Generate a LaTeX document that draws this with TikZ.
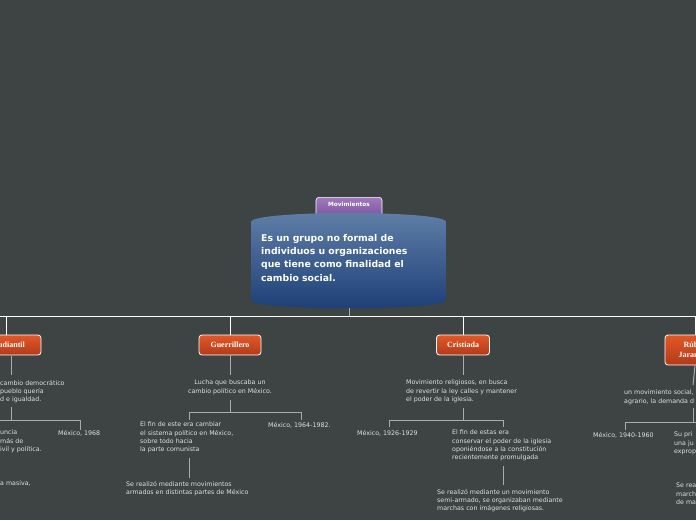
\documentclass[tikz,border=0pt]{standalone}
\usepackage{fontspec}
\setmainfont{DejaVu Sans}
\newfontfamily\boxfont{Liberation Serif}
\usetikzlibrary{calc}
\definecolor{bg}{RGB}{62,67,68}
\definecolor{ln}{RGB}{170,172,172}
\definecolor{tx}{RGB}{225,225,225}
\definecolor{org}{RGB}{226,88,38}
\definecolor{orgd}{RGB}{178,58,26}
\definecolor{blu}{RGB}{96,128,168}
\definecolor{blud}{RGB}{28,62,118}
\definecolor{pur}{RGB}{160,120,190}
\definecolor{purd}{RGB}{120,85,160}
\tikzset{t/.style={anchor=north west, inner sep=0pt, text=tx, align=left, font=\fontsize{6.3}{8.2}\selectfont},
        tc/.style={t, anchor=north, align=center},
        o/.style={rounded corners=3pt, draw=white, line width=0.8pt, top color=org, bottom color=orgd, text=white, font=\boxfont\bfseries\fontsize{8}{10}\selectfont, align=center, inner sep=0pt},
        c/.style={draw=ln, line width=1pt}}
\begin{document}
\begin{tikzpicture}[x=1pt, y=-1pt]
    \fill[bg] (0,0) rectangle (696,520);
    \useasboundingbox (0,0) rectangle (696,520);
    \clip (0,0) rectangle (696,520);

    % central title
    \node[rounded corners=3pt, draw=white, line width=0.6pt, top color=pur, bottom color=purd, text=white, font=\bfseries\fontsize{5.8}{7}\selectfont, minimum width=66pt, minimum height=20pt, anchor=north, text depth=6pt] (top) at (349,197) {Movimientos};
    \shade[top color=blu, bottom color=blud] (251,222) .. controls (251,210) and (446,210) .. (446,222) -- (446,300) .. controls (446,311) and (251,311) .. (251,300) -- cycle;
    \coordinate (mid) at (349,308);
    \node[t, text=white, font=\bfseries\fontsize{9.3}{13.3}\selectfont] (main) at (261,234) {Es un grupo no formal de\\individuos u organizaciones\\que tiene como finalidad el\\cambio social.};

    % main branches
    \coordinate (hl) at (0,316);
    \coordinate (hr) at (696,316);
    \draw[c] (mid) -- (349,316);
    \draw[c, white] (hl) -- (hr);
    \node[o, minimum width=70pt, minimum height=20pt] (e) at (6,345) {Estudiantil};
    \node[o, minimum width=62pt, minimum height=20pt] (g) at (230,345) {Guerrillero};
    \node[o, minimum width=53pt, minimum height=20pt] (cr) at (463,345) {Cristiada};
    \node[o, minimum width=60pt, minimum height=30pt] (r) at (695,350) {Rúben\\Jaramillo};
    \foreach \n in {e,g,cr,r}
      \draw[c, white] (\n.north) -- (\n.north |- hl);

    % Estudiantil
    \node[t] (e1) at (0,380) {cambio democrático\\pueblo quería\\d e igualdad.};
    \node[t] (e2) at (0,430) {uncia\\más de\\ivil y política.};
    \node[t] (e3) at (58,430) {México, 1968};
    \node[t] (e4) at (0,481) {a masiva,};
    \draw[c] (11,356) -- (11,375);
    \draw[c] (11,407) -- (11,420) -- (0,420);
    \draw[c] (11,420) -| (80,430);

    % Guerrillero
    \node[tc] (g1) at (230,380) {Lucha que buscaba un\\ cambio político en México.};
    \node[t] (g2) at (140,422) {El fin de este era cambiar\\el sistema político en México,\\sobre todo hacia\\ la parte comunista};
    \node[t] (g3) at (268,422) {México, 1964-1982.};
    \node[t] (g4) at (126,481) {Se realizó mediante movimientos\\armados en distintas partes de México};
    \draw[c] (g.south) -- (230,375);
    \draw[c] (230,400) -- (230,412);
    \draw[c] (189,420) |- (301,412) -- (301,420);
    \draw[c] (189,458) -- (189,478);

    % Cristiada
    \node[t] (c1) at (406,380) {Movimiento religiosos, en busca\\de revertir la ley calles y mantener\\el poder de la iglesia.};
    \node[t] (c2) at (357,430) {México, 1926-1929};
    \node[t] (c3) at (452,430) {El fin de estas era\\conservar el poder de la iglesia\\oponiéndose a la constitución\\recientemente promulgada};
    \node[t] (c4) at (437,489) {Se realizó mediante un movimiento\\semi-armado, se organizaban mediante\\marchas con imágenes religiosas.};
    \draw[c] (cr.south) -- (463,375);
    \draw[c] (463,408) -- (463,420);
    \draw[c] (389,427) |- (503,420) -- (503,427);
    \draw[c] (503,466) -- (503,485);

    % Ruben Jaramillo
    \node[t] (r1) at (624,390) {un movimiento social,\\agrario,  la demanda d};
    \node[t] (r2) at (593,432) {México, 1940-1960};
    \node[t] (r3) at (674,432) {Su pri\\una ju\\exprop};
    \node[t] (r4) at (676,483) {Se rea\\march\\de ma};
    \draw[c] (r.south) -- (693,385);
    \draw[c] (693,408) -- (693,422);
    \draw[c] (625,430) |- (696,422);
\end{tikzpicture}
\end{document}
